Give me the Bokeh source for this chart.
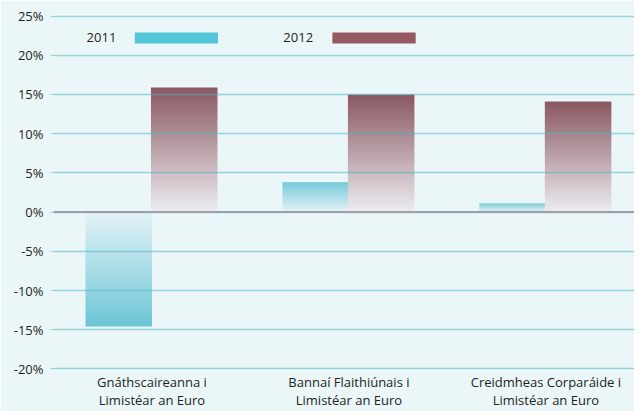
import numpy as np
from bokeh.plotting import figure
from bokeh.models import Range1d, Span, FixedTicker, ColumnDataSource
from bokeh.embed import file_html
from bokeh.resources import INLINE
from bokeh.core.properties import value

# ---- data ----
categories = ["Gnáthscaireanna i\nLimistéar an Euro",
              "Bannaí Flaithiúnais i\nLimistéar an Euro",
              "Creidmheas Corparáide i\nLimistéar an Euro"]
series_names = ["2011", "2012"]
values_2011 = [-14.6, 3.8, 1.1]
values_2012 = [15.9, 15.0, 14.1]
y_ticks = [-20, -15, -10, -5, 0, 5, 10, 15, 20, 25]
y_tick_labels = ["-20%", "-15%", "-10%", "-5%", "0%", "5%", "10%", "15%", "20%", "25%"]

# ---- style ----
BG = "#ebf6f8"
GRID = "#4fb6c8"
ZERO = "#a09dab"
TXT = "#231f20"
C2011_DARK, C2011_LIGHT = "#6cc5d6", "#e4f3f6"
C2012_DARK, C2012_LIGHT = "#8a5761", "#ecedf0"
LEG_2011 = "#52c5d8"
LEG_2012 = "#955a60"
BAR_W = 0.337
NSLICE = 60
FONT = "Open Sans"


def hex2rgb(h):
    h = h.lstrip("#")
    return np.array([int(h[i:i + 2], 16) for i in (0, 2, 4)], dtype=float)


def mix(c_light, c_dark, t):
    a, b = hex2rgb(c_light), hex2rgb(c_dark)
    c = a + (b - a) * t
    return "#%02x%02x%02x" % tuple(int(round(v)) for v in c)


cat_pos = [i + 0.5 for i in range(len(categories))]

p = figure(width=634, height=411,
           x_range=Range1d(0, 2.95),
           y_range=Range1d(-20.2, 25.2),
           output_backend="svg", toolbar_location=None,
           min_border_left=53, min_border_right=0,
           min_border_top=14, min_border_bottom=30,
           background_fill_color=BG, border_fill_color=BG,
           outline_line_color=None)

# gradient bars: slices of each value, drawn outward from zero, each one
# overlapping the next by half a slice so that no seams show
src = dict(left=[], right=[], bottom=[], top=[], color=[])
for vals, dark, light, off in [
        (values_2011, C2011_DARK, C2011_LIGHT, -BAR_W),
        (values_2012, C2012_DARK, C2012_LIGHT, -0.005)]:
    for c, v in zip(cat_pos, vals):
        for s in range(NSLICE):
            t0 = s / NSLICE
            t1 = min(1.0, (s + 1.5) / NSLICE)
            src["left"].append(c + off)
            src["right"].append(c + off + BAR_W)
            src["bottom"].append(v * t0)
            src["top"].append(v * t1)
            src["color"].append(mix(light, dark, (s + 0.5) / NSLICE))
p.quad(left="left", right="right", bottom="bottom", top="top",
       fill_color="color", line_color=None, source=ColumnDataSource(src))

# zero line
p.add_layout(Span(location=0, dimension="width", line_color=ZERO, line_width=2))

# legend (label left of swatch)
leg_src = ColumnDataSource(dict(
    tx=[0.168, 1.167], ty=[22.3, 22.3], label=series_names,
    l=[0.413, 1.416], r=[0.835, 1.839], b=[21.5, 21.5], t=[22.9, 22.9],
    col=[LEG_2011, LEG_2012]))
p.text(x="tx", y="ty", text="label", source=leg_src,
       text_font=value(FONT), text_font_size="13px", text_color=TXT,
       text_align="left", text_baseline="middle")
p.quad(left="l", right="r", bottom="b", top="t", fill_color="col",
       line_color=None, source=leg_src)

# axes
p.yaxis.ticker = FixedTicker(ticks=y_ticks)
p.yaxis.major_label_overrides = {t: l for t, l in zip(y_ticks, y_tick_labels)}
p.yaxis.axis_line_color = None
p.yaxis.minor_tick_line_color = None
p.yaxis.major_tick_in = 0
p.yaxis.major_tick_out = 3
p.yaxis.major_tick_line_color = "#92d6e2"
p.yaxis.major_label_standoff = 7
p.yaxis.major_label_text_font = FONT
p.yaxis.major_label_text_font_size = "13px"
p.yaxis.major_label_text_color = TXT

p.xaxis.ticker = FixedTicker(ticks=cat_pos)
p.xaxis.major_label_overrides = {c: n for c, n in zip(cat_pos, categories)}
p.xaxis.axis_line_color = None
p.xaxis.major_tick_line_color = None
p.xaxis.minor_tick_line_color = None
p.xaxis.major_tick_in = 0
p.xaxis.major_tick_out = 0
p.xaxis.major_label_standoff = 2
p.xaxis.major_label_text_font = FONT
p.xaxis.major_label_text_font_size = "13px"
p.xaxis.major_label_text_color = TXT
p.xaxis.major_label_text_line_height = 1.0

# grid drawn above the bars, semi-transparent like the original
p.ygrid.ticker = FixedTicker(ticks=y_ticks)
p.ygrid.grid_line_color = GRID
p.ygrid.grid_line_alpha = 0.55
p.ygrid.grid_line_width = 1.5
p.ygrid.level = "guide"
p.xgrid.grid_line_color = None

open("out.html", "w").write(file_html(p, INLINE))
